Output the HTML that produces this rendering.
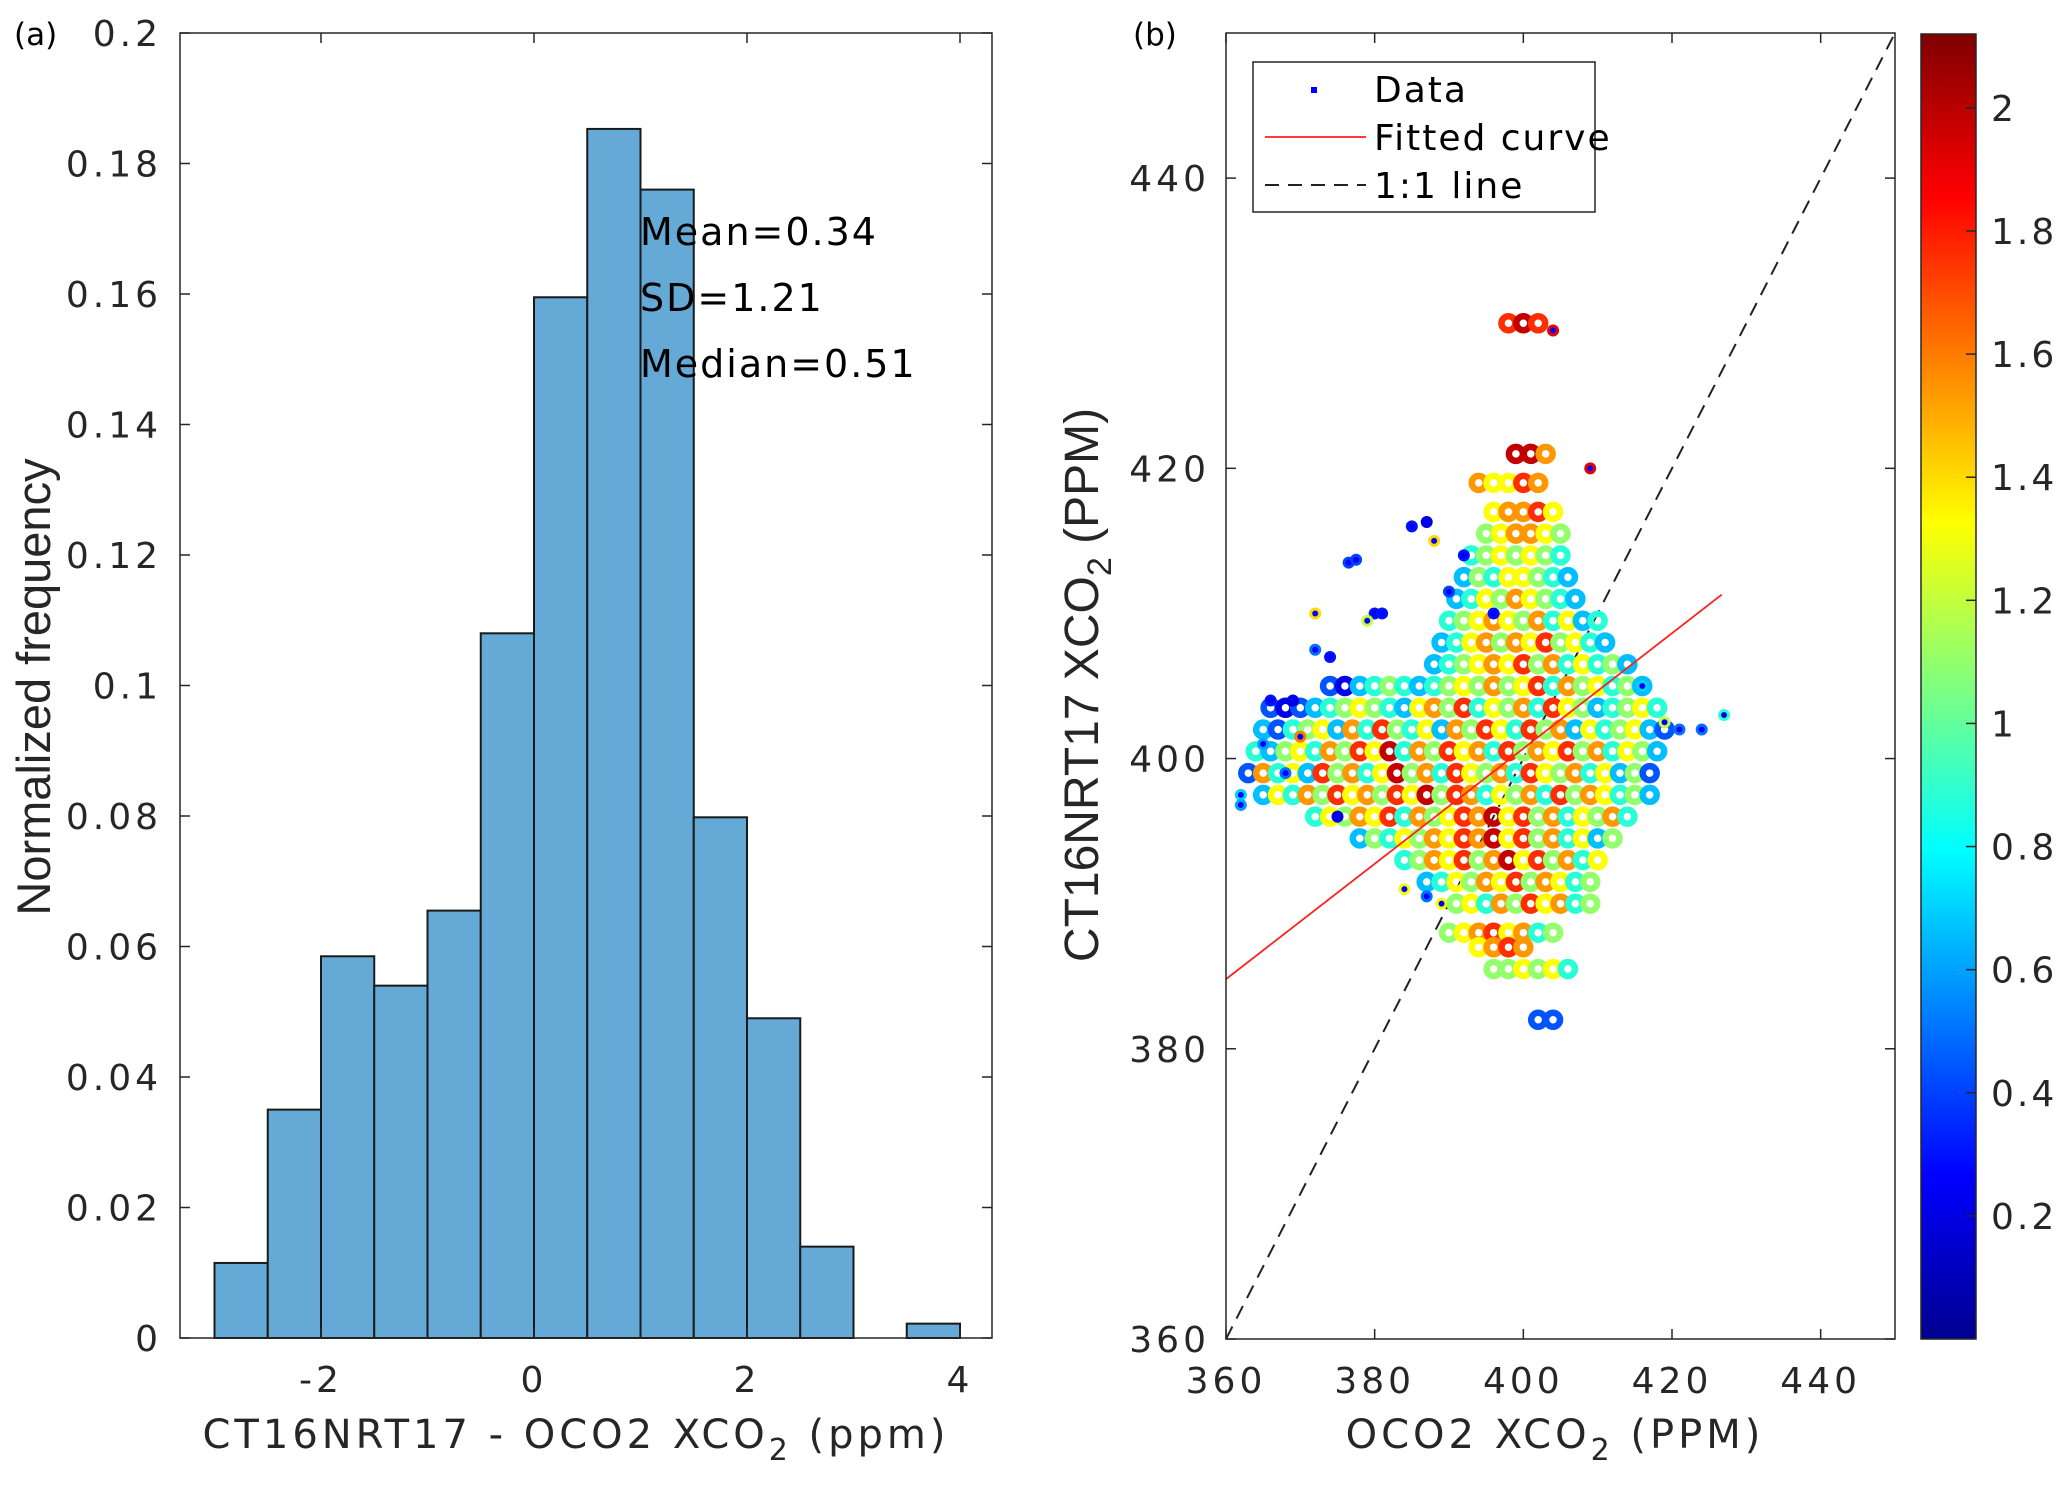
<!DOCTYPE html>
<html><head><meta charset="utf-8"><style>
html,body{margin:0;padding:0;background:#fff;}
svg{display:block;font-family:"DejaVu Sans","Liberation Sans",sans-serif;}
</style></head><body>
<svg id="fig" width="2067" height="1489" viewBox="0 0 2067 1489" xmlns="http://www.w3.org/2000/svg">
<defs>
<linearGradient id="jet" x1="0" y1="1" x2="0" y2="0">
<stop offset="0" stop-color="#00008f"/><stop offset="0.125" stop-color="#0000ff"/><stop offset="0.375" stop-color="#00ffff"/><stop offset="0.625" stop-color="#ffff00"/><stop offset="0.875" stop-color="#ff0000"/><stop offset="1" stop-color="#800000"/>
</linearGradient>
</defs>
<g id="pa"></g>
<g id="pb"></g>
</svg>
<script>
// ---------- Panel (a) data ----------
const binEdgesStart = [-3,-2.5,-2,-1.5,-1,-0.5,0,0.5,1,1.5,2,2.5,3,3.5];
const binFreq = [0.0115,0.035,0.0585,0.054,0.0655,0.108,0.1595,0.1853,0.176,0.0798,0.049,0.014,0,0.0022];
const binWidth = 0.5;
const histXTicks = [-2,0,2,4];
const histYTicks = [0,0.02,0.04,0.06,0.08,0.1,0.12,0.14,0.16,0.18,0.2];
const histYTickLabels = ["0","0.02","0.04","0.06","0.08","0.1","0.12","0.14","0.16","0.18","0.2"];
const statLines = ["Mean=0.34","SD=1.21","Median=0.51"];

// ---------- Panel (b) data ----------
const scatXTicks = [360,380,400,420,440];
const scatYTicks = [360,380,400,420,440];
const cbTicks = [0.2,0.4,0.6,0.8,1,1.2,1.4,1.6,1.8,2];
const fitStart = [360,384.8];
const fitEnd = [426.7,411.3];
// core rows: [y, xStart, colour digits (one per point, spaced 2 ppm), digit*0.22 = colour value]
const coreRows = [
 [430,398,"898"],[421,399,"997"],[419,394,"76687"],[417,396,"67786"],
 [415.5,395,"567765"],[414,393,"4565654"],[412.5,392,"35466543"],[411,391,"346576543"],
 [409.5,390,"45676574634"],[408,389,"346757685643"],[406.5,388,"34567685746453"],
 [405,374,"2134543456575684756453"],[403.5,366,"212345654367584657486534564"],
 [402,365,"3245637485463758648573645632"],[400.5,364,"4356475869475867485768574653"],
 [399,363,"2746385746957486574865746352"],[397.5,365,"364758675869587465748576453"],
 [396,372,"4657684756879685746574"],[394.5,378,"354657687968574635"],
 [393,384,"45768579685746"],[391.5,387,"346576857645"],[390,391,"5647586745"],
 [388,390,"56786745"],[387,394,"6787"],[385.5,396,"556564"],[382,402,"22"]
];
const outX = [376.5,377.5,385,387,380,381,379,372,372,374,366,369,362,362,365,416,419,421,424,427,409,404,389,384,387,396,390,388,392,370,368,375];
const outY = [413.5,413.7,416,416.3,410,410,409.5,410,407.5,407,404,404,397.5,396.8,401,405,402.5,402,402,403,420,429.5,390,391,390.5,410,411.5,415,414,401.5,399,396];
const outC = [0.4,0.4,0.3,0.2,0.3,0.3,1.2,1.4,0.5,0.3,0.3,0.2,0.7,0.6,0.6,0.7,1.2,0.5,0.5,0.9,1.9,1.9,1.3,1.3,0.5,0.3,0.4,1.4,0.3,1.6,0.5,0.2];

const NS="http://www.w3.org/2000/svg";
function mk(parent,tag,attrs,text){const e=document.createElementNS(NS,tag);for(const k in attrs)e.setAttribute(k,attrs[k]);if(text!==undefined)e.textContent=text;parent.appendChild(e);return e;}
const LS='4px';

// ---------- Panel (a) ----------
const pa=document.getElementById('pa');
const aL=180,aR=992,aT=33,aB=1338;
const ax=v=>534+v*106.5;
const ay=v=>aB-(v/0.2)*(aB-aT);
for(let i=0;i<binFreq.length;i++){
  if(binFreq[i]<=0)continue;
  const r=mk(pa,'rect',{x:ax(binEdgesStart[i]),y:ay(binFreq[i]),width:ax(binEdgesStart[i]+binWidth)-ax(binEdgesStart[i]),height:aB-ay(binFreq[i]),fill:'#65a9d7',stroke:'#1a1a1a','stroke-width':2});
  
  
}
const fa=mk(pa,'rect',{x:aL,y:aT,width:aR-aL,height:aB-aT,fill:'none',stroke:'#262626','stroke-width':1.5});


histYTicks.forEach((v,i)=>{
  const y=ay(v);
  mk(pa,'line',{x1:aL,x2:aL+10,y1:y,y2:y,stroke:'#262626','stroke-width':1.5});
  mk(pa,'line',{x1:aR,x2:aR-10,y1:y,y2:y,stroke:'#262626','stroke-width':1.5});
  const t=mk(pa,'text',{x:aL-18,y:y+13,'text-anchor':'end','font-size':36,'letter-spacing':LS,fill:'#262626'},histYTickLabels[i]);
  
  
});
histXTicks.forEach(v=>{
  const x=ax(v);
  mk(pa,'line',{x1:x,x2:x,y1:aB,y2:aB-10,stroke:'#262626','stroke-width':1.5});
  mk(pa,'line',{x1:x,x2:x,y1:aT,y2:aT+10,stroke:'#262626','stroke-width':1.5});
  const t=mk(pa,'text',{x:x,y:aB+54,'text-anchor':'middle','font-size':36,'letter-spacing':LS,fill:'#262626'},v<0?'-'+Math.abs(v):String(v));
  
  
});
statLines.forEach((s,i)=>{
  const t=mk(pa,'text',{x:640,y:245+i*66,'font-size':38,'letter-spacing':'2px',fill:'#000'},s);
  
  
});
const ayl=mk(pa,'text',{x:0,y:0,transform:'translate(50,687) rotate(-90)','text-anchor':'middle','font-size':47,fill:'#262626','font-family':'"Liberation Sans Narrow","Liberation Sans",sans-serif'},'Normalized frequency');


const axl=mk(pa,'text',{x:576,y:1448,'text-anchor':'middle','font-size':40,'letter-spacing':'4px',fill:'#262626'});


axl.innerHTML='CT16NRT17 - OCO2 XCO<tspan dy="12" font-size="30">2</tspan><tspan dy="-12"> (ppm)</tspan>';
const la=mk(pa,'text',{x:14,y:45,'font-size':31,fill:'#000'},'(a)');



// ---------- Panel (b) ----------
const pb=document.getElementById('pb');
const bL=1226,bR=1895,bT=33,bB=1339;
const bx=v=>bL+(v-360)*(bR-bL)/90;
const by=v=>bB-(v-360)*(bB-bT)/90;
function jet(c){
  let t=Math.max(0,Math.min(1,c/2.12));
  const f=(x)=>Math.max(0,Math.min(1,1.5-Math.abs(4*t-x)));
  return 'rgb('+Math.round(255*f(3))+','+Math.round(255*f(2))+','+Math.round(255*f(1))+')';
}
const dash=mk(pb,'line',{x1:bx(360),y1:by(360),x2:bx(450),y2:by(450),stroke:'#222','stroke-width':2,'stroke-dasharray':'14 9'});


const sg=mk(pb,'g',{});


coreRows.forEach(row=>{
  const y=row[0],x0=row[1],d=row[2];
  for(let i=0;i<d.length;i++){
    const c=mk(sg,'circle',{cx:bx(x0+2*i),cy:by(y),r:7,fill:'none',stroke:jet(+d[i]*0.22),'stroke-width':6.5});
    
    
  }
});
outX.forEach((x,i)=>{
  const c=mk(sg,'circle',{cx:bx(x),cy:by(outY[i]),r:4.5,fill:'#0000ff',stroke:jet(outC[i]),'stroke-width':3});
  
  
});
const fit=mk(pb,'line',{x1:bx(fitStart[0]),y1:by(fitStart[1]),x2:bx(fitEnd[0]),y2:by(fitEnd[1]),stroke:'#ff2020','stroke-width':1.8});


const fb=mk(pb,'rect',{x:bL,y:bT,width:bR-bL,height:bB-bT,fill:'none',stroke:'#262626','stroke-width':1.5});


scatXTicks.forEach(v=>{
  const x=bx(v);
  mk(pb,'line',{x1:x,x2:x,y1:bB,y2:bB-10,stroke:'#262626','stroke-width':1.5});
  mk(pb,'line',{x1:x,x2:x,y1:bT,y2:bT+10,stroke:'#262626','stroke-width':1.5});
  const t=mk(pb,'text',{x:x,y:bB+54,'text-anchor':'middle','font-size':36,'letter-spacing':LS,fill:'#262626'},String(v));
  
  
});
scatYTicks.forEach(v=>{
  const y=by(v);
  mk(pb,'line',{x1:bL,x2:bL+10,y1:y,y2:y,stroke:'#262626','stroke-width':1.5});
  mk(pb,'line',{x1:bR,x2:bR-10,y1:y,y2:y,stroke:'#262626','stroke-width':1.5});
  const t=mk(pb,'text',{x:bL-16,y:y+13,'text-anchor':'end','font-size':36,'letter-spacing':LS,fill:'#262626'},String(v));
  
  
});
// legend
const lg=mk(pb,'g',{});


mk(lg,'rect',{x:1253,y:62,width:342,height:150,fill:'#fff',stroke:'#262626','stroke-width':1.5});
mk(lg,'rect',{x:1311,y:87,width:6,height:6,fill:'#0000ff'});
mk(lg,'line',{x1:1265,x2:1366,y1:137,y2:137,stroke:'#ff2020','stroke-width':1.8});
mk(lg,'line',{x1:1265,x2:1366,y1:185,y2:185,stroke:'#222','stroke-width':2,'stroke-dasharray':'14 9'});
const legTexts=['Data','Fitted curve','1:1 line'];
legTexts.forEach((s,i)=>{
  const t=mk(lg,'text',{x:1374,y:102+i*48,'font-size':36,'letter-spacing':'2px',fill:'#000'},s);
  
  
});
// colorbar
const cbL=1921,cbR=1976,cbT=34,cbB=1339;
const cy=v=>cbB-(v/2.12)*(cbB-cbT);
const cb=mk(pb,'rect',{x:cbL,y:cbT,width:cbR-cbL,height:cbB-cbT,fill:'url(#jet)',stroke:'#262626','stroke-width':1.5});


cbTicks.forEach(v=>{
  const y=cy(v);
  mk(pb,'line',{x1:cbR-10,x2:cbR,y1:y,y2:y,stroke:'#262626','stroke-width':1.5});
  const t=mk(pb,'text',{x:1991,y:y+13,'font-size':36,'letter-spacing':'3px',fill:'#262626'},String(v));
  
  
});
const byl=mk(pb,'text',{x:0,y:0,transform:'translate(1098,685) rotate(-90)','text-anchor':'middle','font-size':48,fill:'#262626','font-family':'"Liberation Sans Narrow","Liberation Sans",sans-serif'});


byl.innerHTML='CT16NRT17 XCO<tspan dy="13" font-size="34">2</tspan><tspan dy="-13">  (PPM)</tspan>';
const bxl=mk(pb,'text',{x:1555,y:1448,'text-anchor':'middle','font-size':40,'letter-spacing':'4px',fill:'#262626'});


bxl.innerHTML='OCO2 XCO<tspan dy="12" font-size="30">2</tspan><tspan dy="-12">  (PPM)</tspan>';
const lb=mk(pb,'text',{x:1133,y:45,'font-size':31,fill:'#000'},'(b)');


</script>
</body></html>
